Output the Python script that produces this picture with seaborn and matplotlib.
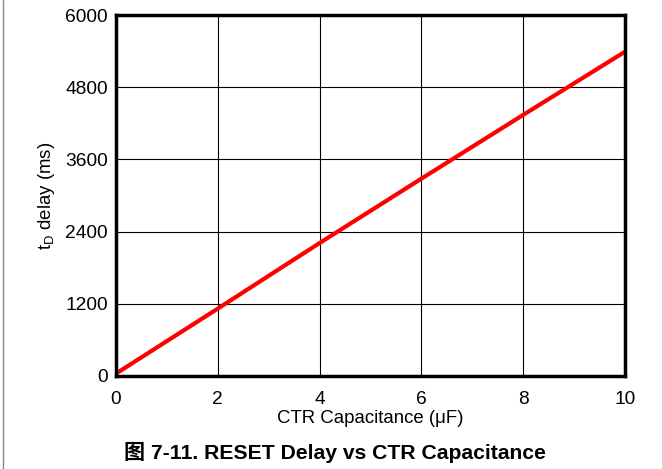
import pandas as pd
import matplotlib
matplotlib.use("Agg")
import matplotlib.pyplot as plt
import seaborn as sns
from matplotlib.lines import Line2D

capacitance_uf = [0, 1, 2, 3, 4, 5, 6, 7, 8, 9, 10]
delay_ms = [40, 580, 1120, 1665, 2210, 2745, 3280, 3810, 4340, 4865, 5390]
x_ticks = [0, 2, 4, 6, 8, 10]
y_ticks = [0, 1200, 2400, 3600, 4800, 6000]


def plot_reset_delay():
    sns.set_style("white")
    plt.rcParams['font.family'] = ['Liberation Sans', 'Noto Sans CJK SC', 'DejaVu Sans']
    plt.rcParams['mathtext.fontset'] = 'custom'
    plt.rcParams['mathtext.rm'] = 'Liberation Sans'
    plt.rcParams['text.color'] = 'black'
    plt.rcParams['axes.labelcolor'] = 'black'

    df = pd.DataFrame({'cap': capacitance_uf, 'delay': delay_ms})

    fig = plt.figure(figsize=(6.62, 4.69), dpi=100)
    ax = fig.add_axes([0.1752, 0.1983, 0.7689, 0.7697])
    sns.lineplot(data=df, x='cap', y='delay', ax=ax, color='#ff0000', linewidth=3)

    ax.set_xlim(0, 10)
    ax.set_ylim(0, 6000)
    ax.set_xticks(x_ticks)
    ax.set_yticks(y_ticks)
    ax.grid(True, color='black', linewidth=0.8)
    ax.tick_params(length=0, labelsize=13.8, colors='black')
    ax.tick_params(axis='x', pad=11)
    ax.tick_params(axis='y', pad=6)
    for s in ax.spines.values():
        s.set_color('black')
        s.set_linewidth(2.5)
        s.set_visible(True)

    ax.set_xlabel("CTR Capacitance (\u03bcF)", fontsize=13.4, labelpad=1)
    ax.set_ylabel("t$_\\mathregular{D}$ delay (ms)", fontsize=13.4, labelpad=6)

    fig.text(0.506, 0.036, "图 7-11. RESET Delay vs CTR Capacitance",
             ha='center', va='center', fontsize=15.2, fontweight='bold')
    fig.add_artist(Line2D([0.005, 0.005], [0, 1], transform=fig.transFigure,
                          color='#888888', linewidth=1))

    fig.savefig("out.png", dpi=100)


if __name__ == "__main__":
    plot_reset_delay()
